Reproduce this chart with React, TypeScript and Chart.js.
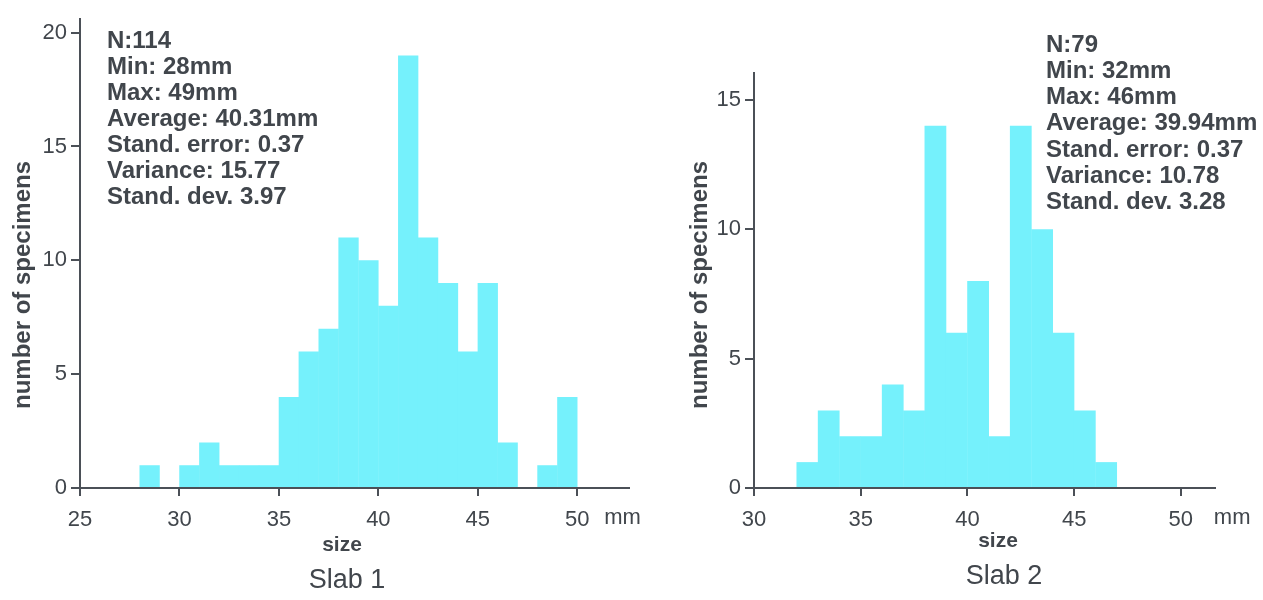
import { useEffect, useRef } from 'react';
import { Chart, registerables } from 'chart.js';

Chart.register(...registerables);

// ---------- data ----------
const slab1Bins = [28, 29, 30, 31, 32, 33, 34, 35, 36, 37, 38, 39, 40, 41, 42, 43, 44, 45, 46, 47, 48, 49];
const slab1Counts = [1, 0, 1, 2, 1, 1, 1, 4, 6, 7, 11, 10, 8, 19, 11, 9, 6, 9, 2, 0, 1, 4];
const slab1XTicks = [25, 30, 35, 40, 45, 50];
const slab1YTicks = [0, 5, 10, 15, 20];
const slab1Stats = [
  'N:114',
  'Min: 28mm',
  'Max: 49mm',
  'Average: 40.31mm',
  'Stand. error: 0.37',
  'Variance: 15.77',
  'Stand. dev. 3.97',
];

const slab2Bins = [32, 33, 34, 35, 36, 37, 38, 39, 40, 41, 42, 43, 44, 45, 46];
const slab2Counts = [1, 3, 2, 2, 4, 3, 14, 6, 8, 2, 14, 10, 6, 3, 1];
const slab2XTicks = [30, 35, 40, 45, 50];
const slab2YTicks = [0, 5, 10, 15];
const slab2Stats = [
  'N:79',
  'Min: 32mm',
  'Max: 46mm',
  'Average: 39.94mm',
  'Stand. error: 0.37',
  'Variance: 10.78',
  'Stand. dev. 3.28',
];

const xTitle = 'size';
const yTitle = 'number of specimens';
const unitLabel = 'mm';

// ---------- styles ----------
const FONT = '"Liberation Sans", Arial, Helvetica, sans-serif';
const TEXT = '#41464c';
const AXIS = '#4b5057';
const BAR = '#75f1fc';

type Layout = {
  width: number;
  xMin: number;
  xMax: number;
  yMax: number;
  yWidth: number;
  padTop: number;
  padRight: number;
  xHeight: number;
  statsX: number;
  statsY: number;
  statsStep: number;
  yTitleX: number;
  yTitleY: number;
  sizeX: number;
  sizeY: number;
  slabX: number;
  slabY: number;
  mmOffset: number;
  mmY: number;
};

const annotatePlugin = {
  id: 'annotate',
  afterDraw(chart: any, _args: any, opts: any) {
    const ctx = chart.ctx;
    const L: Layout = opts.layout;
    ctx.save();
    ctx.fillStyle = TEXT;
    // stats
    ctx.font = `bold 24px ${FONT}`;
    ctx.textAlign = 'left';
    ctx.textBaseline = 'alphabetic';
    (opts.stats as string[]).forEach((s, i) => {
      ctx.fillText(s, L.statsX, L.statsY + i * L.statsStep + 8.5);
    });
    // unit label next to last tick
    const xs = chart.scales.x;
    const lastTick = opts.xTicks[opts.xTicks.length - 1];
    ctx.font = `22px ${FONT}`;
    ctx.textBaseline = 'middle';
    ctx.fillText(unitLabel, xs.getPixelForValue(lastTick) + L.mmOffset, L.mmY);
    // x title
    ctx.font = `bold 21px ${FONT}`;
    ctx.textAlign = 'center';
    ctx.fillText(xTitle, L.sizeX, L.sizeY);
    // slab title
    ctx.font = `27px ${FONT}`;
    ctx.fillText(opts.title, L.slabX, L.slabY);
    // y title
    ctx.translate(L.yTitleX, L.yTitleY);
    ctx.rotate(-Math.PI / 2);
    ctx.font = `bold 24px ${FONT}`;
    ctx.fillText(yTitle, 0, 0);
    ctx.restore();
  },
};

function makeConfig(
  bins: number[],
  counts: number[],
  xTicks: number[],
  yTicks: number[],
  stats: string[],
  title: string,
  L: Layout
): any {
  return {
    type: 'bar',
    data: {
      datasets: [
        {
          data: bins.map((b, i) => ({ x: b + 0.5, y: counts[i] })),
          backgroundColor: BAR,
          borderWidth: 0,
          barPercentage: 1.02,
          categoryPercentage: 1,
        },
      ],
    },
    options: {
      responsive: false,
      animation: false,
      events: [],
      layout: { padding: { top: L.padTop, right: L.padRight, left: 0, bottom: 0 } },
      plugins: {
        legend: { display: false },
        tooltip: { enabled: false },
        title: { display: false },
        annotate: { layout: L, stats, title, xTicks },
      },
      scales: {
        x: {
          type: 'linear',
          min: L.xMin,
          max: L.xMax,
          offset: false,
          afterBuildTicks: (s: any) => {
            s.ticks = xTicks.map((v) => ({ value: v }));
          },
          afterFit: (s: any) => {
            s.height = L.xHeight;
          },
          grid: {
            offset: false,
            drawOnChartArea: false,
            drawTicks: true,
            tickLength: 8,
            lineWidth: 2,
            color: AXIS,
          },
          border: { display: true, color: AXIS, width: 2 },
          ticks: {
            autoSkip: false,
            maxRotation: 0,
            padding: 11,
            color: TEXT,
            font: { family: FONT, size: 22 },
            callback: (v: any) => String(v),
          },
        },
        y: {
          type: 'linear',
          min: 0,
          max: L.yMax,
          afterBuildTicks: (s: any) => {
            s.ticks = yTicks.map((v) => ({ value: v }));
          },
          afterFit: (s: any) => {
            s.width = L.yWidth;
          },
          grid: {
            drawOnChartArea: false,
            drawTicks: true,
            tickLength: 9,
            lineWidth: 2,
            color: AXIS,
          },
          border: { display: true, color: AXIS, width: 2 },
          ticks: {
            padding: 4,
            color: TEXT,
            font: { family: FONT, size: 22 },
            callback: (v: any) => String(v),
          },
        },
      },
    },
    plugins: [annotatePlugin],
  };
}

const layout1: Layout = {
  width: 650,
  xMin: 25,
  xMax: 52.6,
  yMax: 20.6,
  yWidth: 80,
  padTop: 19,
  padRight: 21,
  xHeight: 112,
  statsX: 107,
  statsY: 39,
  statsStep: 26,
  yTitleX: 23,
  yTitleY: 285,
  sizeX: 342,
  sizeY: 545,
  slabX: 347,
  slabY: 581,
  mmOffset: 27,
  mmY: 518,
};

const layout2: Layout = {
  width: 613,
  xMin: 30,
  xMax: 51.6,
  yMax: 16.04,
  yWidth: 104,
  padTop: 73,
  padRight: 48,
  xHeight: 112,
  statsX: 396,
  statsY: 43,
  statsStep: 26.3,
  yTitleX: 50,
  yTitleY: 285,
  sizeX: 348,
  sizeY: 541,
  slabX: 354,
  slabY: 577,
  mmOffset: 33,
  mmY: 518,
};

function Histogram(props: {
  bins: number[];
  counts: number[];
  xTicks: number[];
  yTicks: number[];
  stats: string[];
  title: string;
  L: Layout;
  left: number;
}) {
  const ref = useRef<HTMLCanvasElement | null>(null);
  useEffect(() => {
    if (!ref.current) return;
    const chart = new Chart(
      ref.current,
      makeConfig(props.bins, props.counts, props.xTicks, props.yTicks, props.stats, props.title, props.L)
    );
    return () => chart.destroy();
  }, []);
  return (
    <canvas
      ref={ref}
      width={props.L.width}
      height={600}
      style={{ position: 'absolute', left: props.left, top: 0, width: props.L.width, height: 600, display: 'block' }}
    />
  );
}

export default function App() {
  return (
    <div style={{ position: 'fixed', left: 0, top: 0, width: 1263, height: 600, background: '#ffffff', overflow: 'hidden' }}>
      <Histogram
        bins={slab1Bins}
        counts={slab1Counts}
        xTicks={slab1XTicks}
        yTicks={slab1YTicks}
        stats={slab1Stats}
        title="Slab 1"
        L={layout1}
        left={0}
      />
      <Histogram
        bins={slab2Bins}
        counts={slab2Counts}
        xTicks={slab2XTicks}
        yTicks={slab2YTicks}
        stats={slab2Stats}
        title="Slab 2"
        L={layout2}
        left={650}
      />
    </div>
  );
}
